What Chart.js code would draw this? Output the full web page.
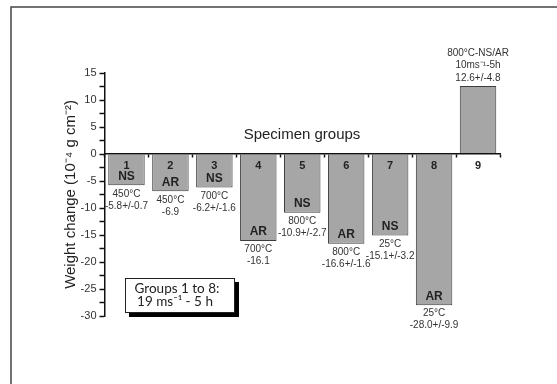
<!DOCTYPE html>
<html>
<head>
<meta charset="utf-8">
<script src="https://cdn.jsdelivr.net/npm/chart.js@4"></script>
<style>
    body { margin: 0; background: #fff; }
    canvas { display: block; }
</style>
</head>
<body>
<canvas id="chartContainer" width="557" height="384"></canvas>
<script>
const groups = ['1', '2', '3', '4', '5', '6', '7', '8', '9'];
const weightChange = [-5.8, -6.9, -6.2, -16.1, -10.9, -16.6, -15.1, -28.0, 12.6];
const atmosphere = ['NS', 'AR', 'NS', 'AR', 'NS', 'AR', 'NS', 'AR', ''];
const temperature = ['450°C', '450°C', '700°C', '700°C', '800°C', '800°C', '25°C', '25°C', '800°C-NS/AR'];
const flowText = ['', '', '', '', '', '', '', '', '10ms⁻¹-5h'];
const valueText = ['-5.8+/-0.7', '-6.9', '-6.2+/-1.6', '-16.1', '-10.9+/-2.7', '-16.6+/-1.6', '-15.1+/-3.2', '-28.0+/-9.9', '12.6+/-4.8'];
const yTicks = [-30, 15, 2.5];   // min, max, step

const FONT = '"Liberation Sans", Arial, sans-serif';

// texts on and around the bars, the frame and the note box
const annotations = {
    id: 'annotations',
    afterDatasetsDraw(chart) {
        const ctx = chart.ctx;
        const bars = chart.getDatasetMeta(0).data;
        ctx.save();
        ctx.textAlign = 'center';
        ctx.textBaseline = 'middle';
        bars.forEach((bar, i) => {
            const x = bar.x;
            ctx.fillStyle = '#222';
            if (weightChange[i] < 0) {
                const bottom = bar.y;
                ctx.font = 'bold 12px ' + FONT;
                ctx.fillText(atmosphere[i], x, bottom - 9);
                ctx.font = '10px ' + FONT;
                ctx.fillStyle = '#333';
                ctx.fillText(temperature[i], x, bottom + 8.5);
                ctx.fillText(valueText[i], x, bottom + 20.5);
            } else {
                const top = bar.y;
                ctx.font = '10px ' + FONT;
                ctx.fillStyle = '#333';
                ctx.fillText(valueText[i], x, top - 8);
                ctx.fillText(flowText[i], x, top - 20.5);
                ctx.fillText(temperature[i], x, top - 33);
            }
        });

        ctx.font = '15px ' + FONT;
        ctx.fillStyle = '#222';
        ctx.fillText('Specimen groups', 302, 135);

        // note box with shadow
        ctx.fillStyle = '#000';
        ctx.fillRect(129, 282, 110, 35);
        ctx.fillStyle = '#fff';
        ctx.fillRect(125, 278, 110, 35);
        ctx.strokeStyle = '#222';
        ctx.lineWidth = 1;
        ctx.strokeRect(125.5, 278.5, 109, 34);
        ctx.fillStyle = '#222';
        ctx.font = '13.5px Lato, "Open Sans", sans-serif';
        ctx.fillText('Groups 1 to 8:', 177, 289);
        ctx.fillText('19 ms⁻¹ - 5 h', 175, 302);

        // frame
        ctx.strokeStyle = '#444';
        ctx.lineWidth = 1.5;
        ctx.beginPath();
        ctx.moveTo(11, 384);
        ctx.lineTo(11, 7);
        ctx.lineTo(557, 7);
        ctx.stroke();
        ctx.restore();
    }
};

function createChart() {
    const ctx = document.getElementById('chartContainer');
    new Chart(ctx, {
        type: 'bar',
        data: {
            labels: groups,
            datasets: [{
                data: weightChange,
                backgroundColor: '#a6a6a6',
                borderColor: '#3c3c3c',
                borderWidth: 1,
                barPercentage: 0.83,
                categoryPercentage: 1
            }]
        },
        options: {
            responsive: false,
            animation: false,
            devicePixelRatio: 1,
            layout: { padding: { left: 58, right: 57, top: 73, bottom: 68 } },
            plugins: {
                legend: { display: false },
                tooltip: { enabled: false }
            },
            scales: {
                x: {
                    position: { y: 0 },
                    offset: true,
                    afterFit: (scale) => { scale.height = 0; },
                    grid: {
                        offset: true,
                        drawOnChartArea: false,
                        tickLength: 3,
                        tickColor: '#111',
                        tickWidth: 1.5,
                        z: 1
                    },
                    border: { color: '#111', width: 1.5, z: 1 },
                    ticks: {
                        z: 1,   // numbers sit on top of the bars
                        padding: 2,
                        color: '#222',
                        font: { family: FONT, size: 11, weight: 'bold' }
                    }
                },
                y: {
                    min: yTicks[0],
                    max: yTicks[1],
                    afterFit: (scale) => { scale.width = 46.5; },
                    grid: {
                        drawOnChartArea: false,
                        tickLength: 5,
                        tickColor: '#111',
                        tickWidth: 1.5
                    },
                    border: { color: '#111', width: 1.5 },
                    ticks: {
                        stepSize: yTicks[2],
                        autoSkip: false,
                        padding: 3,
                        color: '#333',
                        font: { family: FONT, size: 11 },
                        callback: (v) => (v % 5 === 0 ? v : '')
                    },
                    title: {
                        display: true,
                        text: 'Weight change (10⁻⁴ g cm⁻²)',
                        color: '#222',
                        font: { family: FONT, size: 15 }
                    }
                }
            }
        },
        plugins: [annotations]
    });
}

createChart();
</script>
</body>
</html>
